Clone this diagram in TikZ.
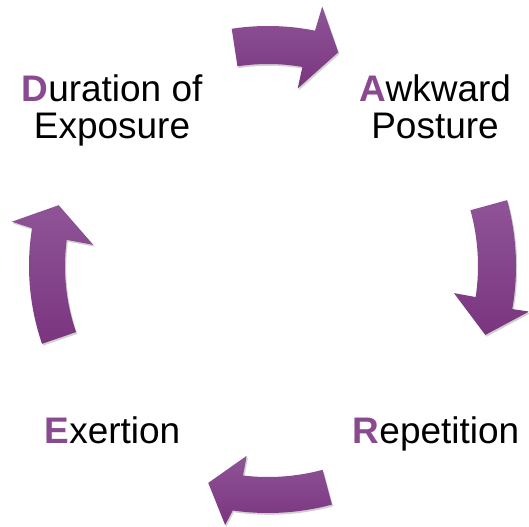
\documentclass[tikz,border=0pt]{standalone}
\usepackage{fontspec}
\setmainfont{Liberation Sans}
\usetikzlibrary{shadows}
\definecolor{accent}{HTML}{8A4A8F}
\definecolor{arrtop}{HTML}{8F5497}
\definecolor{arrbot}{HTML}{7A357F}
\tikzset{
  cyclearrow/.style={top color=arrtop, bottom color=arrbot, draw=none,
    drop shadow={shadow xshift=1.2bp, shadow yshift=-1.8bp, fill=black, opacity=0.18}},
  label/.style={align=center, inner sep=0pt, anchor=base,
    font=\fontsize{37.1}{37.5}\selectfont, text=black}
}
\begin{document}
\begin{tikzpicture}[x=1bp,y=1bp]
\useasboundingbox (0,0) rectangle (529,527);
\fill[white] (0,0) rectangle (529,527);
% labels (base anchor = baseline of the last line)
\node[label] (dur) at (112,388) {{\bfseries\color{accent}D}uration of\\Exposure};
\node[label] (awk) at (435,388) {{\bfseries\color{accent}A}wkward\\Posture};
\node[label] (rep) at (436,83.8) {{\bfseries\color{accent}R}epetition};
\node[label] (exe) at (112.5,83.8) {{\bfseries\color{accent}E}xertion};
% arrows
\begin{scope}[shift={(268,261)}]
  % top: Duration -> Awkward
  \path[cyclearrow] (98.7:240) arc[start angle=98.7, end angle=78.7, radius=240bp]
    -- (78.2:265) -- (71.8:225) -- (80.5:180) -- (80.2:202)
    arc[start angle=80.2, end angle=98.7, radius=202bp] -- cycle;
  % right: Awkward -> Repetition
  \path[cyclearrow] (15.4:248) arc[start angle=15.4, end angle=-10, radius=248bp]
    -- (-9.9:265) -- (-17.6:228) -- (-8.3:188) -- (-8.5:210)
    arc[start angle=-8.5, end angle=15.4, radius=210bp] -- cycle;
  % bottom: Repetition -> Exertion
  \path[cyclearrow] (-75:247) arc[start angle=-75, end angle=-98.2, radius=247bp]
    -- (-99.4:262.5) -- (-105.4:225) -- (-96.4:191) -- (-96.8:211)
    arc[start angle=-96.8, end angle=-75, radius=211bp] -- cycle;
  % left: Exertion -> Duration
  \path[cyclearrow] (199:239) arc[start angle=199, end angle=170.9, radius=239bp]
    -- (170.2:260) -- (163.8:218) -- (173.1:176) -- (172.6:203)
    arc[start angle=172.6, end angle=199, radius=203bp] -- cycle;
\end{scope}
\end{tikzpicture}
\end{document}
